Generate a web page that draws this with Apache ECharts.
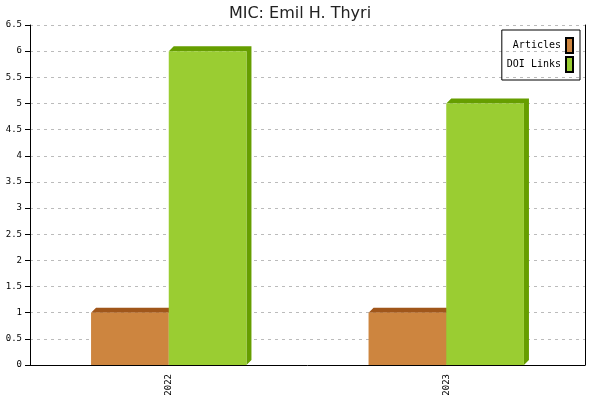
<!DOCTYPE html>
<html>

<head>
    <meta charset="utf-8">
    <title>MIC: Emil H. Thyri</title>
    <script src="https://cdn.jsdelivr.net/npm/echarts@6/dist/echarts.min.js"></script>
</head>

<body style="margin:0">
    <div id="main" style="width: 600px;height:400px;"></div>
    <script type="text/javascript">
        // chart data
        let categories = ['2022', '2023']
        let articles = [1, 1]
        let doiLinks = [6, 5]

        let monoFont = 'DejaVu Sans Mono'

        // bar with a darker top + right face (fake 3D)
        function bar3d(slot, front, dark) {
            return function (params, api) {
                let cat = api.value(0)
                let pt = api.coord([cat, api.value(1)])
                let base = api.coord([cat, 0])
                let w = api.size([1, 0])[0] * 0.28
                let x0 = pt[0] - w + slot * w
                let x1 = x0 + w
                let d = 5
                return {
                    type: 'group',
                    children: [
                        {
                            type: 'polygon',
                            shape: {
                                points: [[x0, pt[1]], [x0 + d, pt[1] - d], [x1 + d, pt[1] - d],
                                    [x1 + d, base[1] - d], [x1, base[1]], [x1, pt[1]]]
                            },
                            style: { fill: dark }
                        },
                        {
                            type: 'rect',
                            shape: { x: x0, y: pt[1], width: w, height: base[1] - pt[1] },
                            style: { fill: front }
                        }
                    ]
                }
            }
        }

        let myChart = echarts.init(document.getElementById('main'));

        let option = {
            animation: false,
            title: {
                text: 'MIC: Emil H. Thyri',
                left: 'center',
                top: 1,
                textStyle: { fontFamily: 'DejaVu Sans', fontSize: 16, fontWeight: 'normal', color: '#222' }
            },
            legend: {
                orient: 'vertical',
                right: 20,
                top: 30,
                align: 'right',
                padding: [7, 6, 7, 5],
                itemWidth: 7,
                itemHeight: 15,
                itemGap: 2,
                borderColor: '#000',
                borderWidth: 1,
                icon: 'rect',
                textStyle: { fontFamily: monoFont, fontSize: 10, color: '#000' },
                data: ['Articles', 'DOI Links']
            },
            grid: {
                left: 30,
                right: 15,
                top: 25,
                bottom: 35
            },
            xAxis: {
                type: 'category',
                data: categories,
                axisLine: { lineStyle: { color: '#000', width: 1 } },
                axisTick: { length: 5, lineStyle: { color: '#000' } },
                axisLabel: { rotate: 90, fontFamily: monoFont, fontSize: 9, color: '#000', margin: 9 }
            },
            yAxis: [
                {
                    type: 'value',
                    min: 0,
                    max: 6.5,
                    interval: 0.5,
                    axisLine: { show: true, lineStyle: { color: '#000', width: 1 } },
                    axisTick: { show: true, length: 5, lineStyle: { color: '#000' } },
                    axisLabel: { fontFamily: monoFont, fontSize: 9, color: '#000', margin: 8 },
                    splitLine: { lineStyle: { color: '#bbb', type: [3, 4] } }
                },
                {
                    type: 'value',
                    position: 'right',
                    min: 0,
                    max: 6.5,
                    interval: 0.5,
                    axisLine: { show: true, lineStyle: { color: '#000', width: 1 } },
                    axisTick: { show: false },
                    axisLabel: { show: false },
                    splitLine: { show: false }
                }
            ],
            series: [
                {
                    name: 'Articles',
                    type: 'custom',
                    renderItem: bar3d(0, '#cd853f', '#a0561a'),
                    itemStyle: { color: '#cd853f', borderColor: '#000', borderWidth: 1 },
                    encode: { x: 0, y: 1 },
                    data: categories.map(function (c, i) { return [i, articles[i]] })
                },
                {
                    name: 'DOI Links',
                    type: 'custom',
                    renderItem: bar3d(1, '#9acd32', '#669e00'),
                    itemStyle: { color: '#9acd32', borderColor: '#000', borderWidth: 1 },
                    encode: { x: 0, y: 1 },
                    data: categories.map(function (c, i) { return [i, doiLinks[i]] })
                }
            ]
        };

        myChart.setOption(option);
    </script>
</body>

</html>
